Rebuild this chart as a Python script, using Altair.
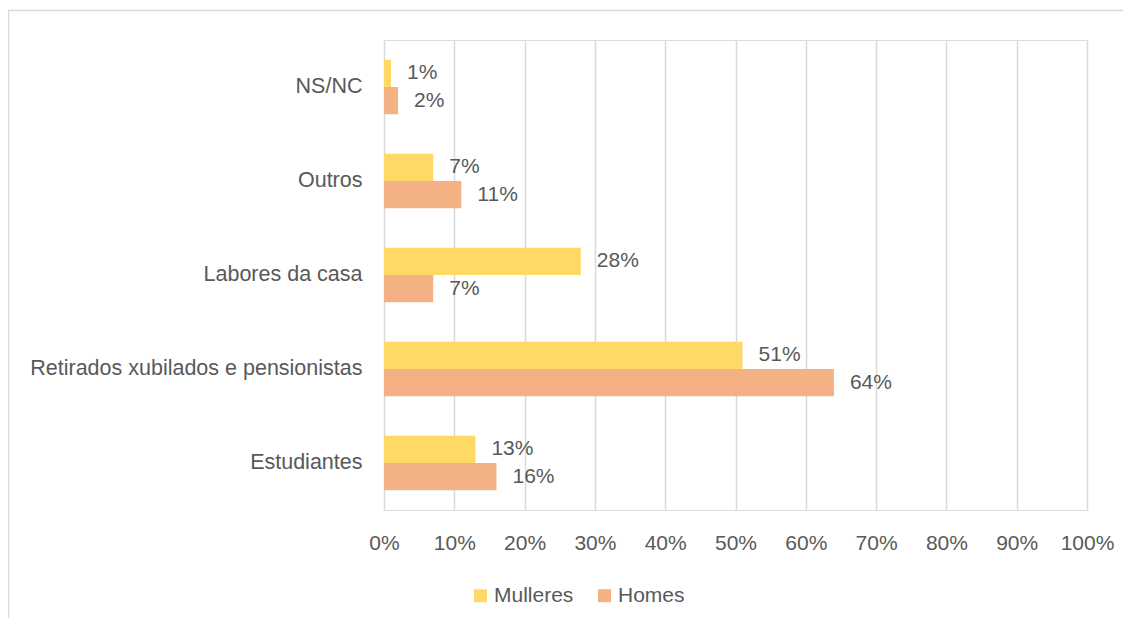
import altair as alt
import pandas as pd

categories = ["NS/NC", "Outros", "Labores da casa", "Retirados xubilados e pensionistas", "Estudiantes"]
series = ["Mulleres", "Homes"]
mulleres = [1, 7, 28, 51, 13]
homes = [2, 11, 7, 64, 16]
colors = ["#FFD966", "#F4B183"]
ticks = [0, 10, 20, 30, 40, 50, 60, 70, 80, 90, 100]

rows = []
for c, m, h in zip(categories, mulleres, homes):
    rows.append({"cat": c, "serie": "Mulleres", "v": m})
    rows.append({"cat": c, "serie": "Homes", "v": h})
df = pd.DataFrame(rows)

FONT = "Liberation Sans"
GREY = "#595959"
FS = 21

y = alt.Y("cat:N", sort=categories, title=None,
          scale=alt.Scale(paddingInner=0.42, paddingOuter=0.21),
          axis=alt.Axis(domain=False, ticks=False, labelFontSize=21.5, labelColor=GREY,
                        labelFont=FONT, labelPadding=22, labelLimit=400))
yoff = alt.YOffset("serie:N", sort=series)
x = alt.X("v:Q", title=None,
          scale=alt.Scale(domain=[0, 100], nice=False),
          axis=alt.Axis(values=ticks, labelExpr="datum.value + '%'", domain=False, ticks=False,
                        grid=True, gridColor="#D9D9D9", gridWidth=1.5, labelFlush=False,
                        labelFontSize=FS, labelColor=GREY, labelFont=FONT, labelPadding=22))

bars = alt.Chart(df).mark_bar(cornerRadius=0).encode(
    x=x, y=y, yOffset=yoff,
    color=alt.Color("serie:N", sort=series,
                    scale=alt.Scale(domain=series, range=colors),
                    legend=alt.Legend(title=None, orient="none", direction="horizontal",
                                      legendX=86, legendY=545,
                                      symbolType="square", symbolSize=169,
                                      symbolStrokeWidth=0,
                                      labelFontSize=FS, labelColor=GREY, labelFont=FONT,
                                      columnPadding=20, labelOffset=3)),
)

labels = alt.Chart(df).transform_calculate(lab="datum.v + '%'").mark_text(
    align="left", baseline="middle", dx=16, fontSize=FS, font=FONT, color=GREY
).encode(x="v:Q", y=alt.Y("cat:N", sort=categories), yOffset=yoff, text="lab:N")

frame = alt.Chart(pd.DataFrame({"a": [0]})).mark_rect(
    fill=None, stroke="#D9D9D9", strokeWidth=1.5
).encode(x=alt.value(-375.5), x2=alt.value(800), y=alt.value(-29.5), y2=alt.value(620))

chart = alt.layer(frame, bars, labels).properties(
    width=703, height=470,
    padding={"left": 376, "top": 32, "right": 36, "bottom": 108},
    autosize=alt.AutoSizeParams(type="none"),
).configure_view(stroke=None).configure(background="white")

chart.save("out.html", embed_options={"renderer": "svg", "actions": False})
